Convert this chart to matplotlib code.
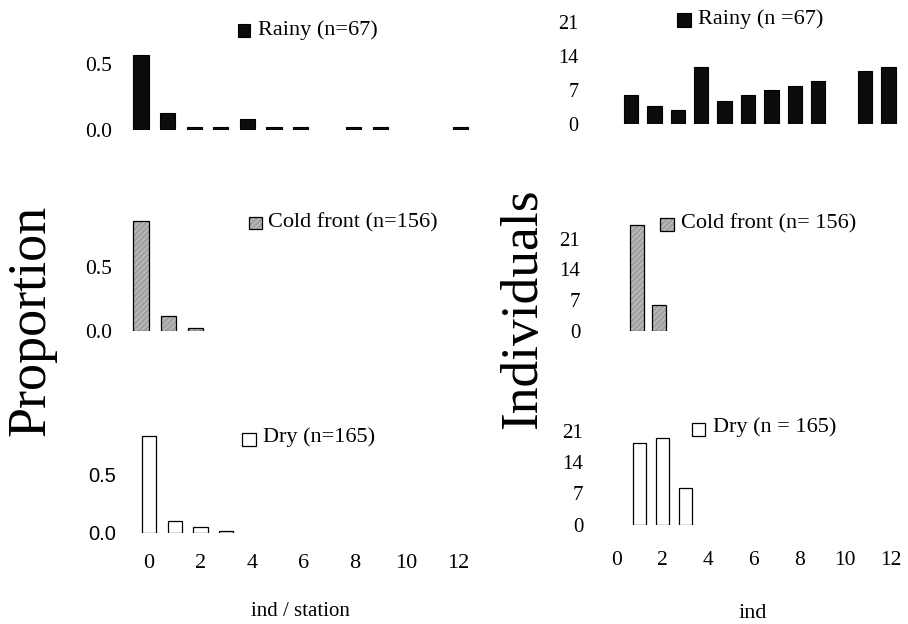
import matplotlib
matplotlib.use("Agg")
import matplotlib.pyplot as plt
from matplotlib.patches import Rectangle

# ---------------- data ----------------
x_prop = list(range(13))
rainy_prop = [0.57, 0.13, 0.02, 0.02, 0.08, 0.02, 0.02, 0.0, 0.02, 0.02, 0.0, 0.0, 0.02]
cold_x = [0, 1, 2]
cold_prop = [0.86, 0.12, 0.02]
dry_x = [0, 1, 2, 3]
dry_prop = [0.84, 0.10, 0.05, 0.015]

rainy_ind_x = [1, 2, 3, 4, 5, 6, 7, 8, 9, 11, 12]
rainy_ind = [6.0, 3.8, 2.8, 11.8, 4.8, 6.0, 7.0, 7.9, 8.8, 10.9, 11.8]
cold_ind_x = [1, 2]
cold_ind = [24.0, 5.8]
dry_ind_x = [1, 2, 3]
dry_ind = [18.3, 19.3, 8.2]

prop_ticks = [0.0, 0.5]
prop_ticklabels = ["0.0", "0.5"]
ind_ticks = [0, 7, 14, 21]
x_ticks = [0, 2, 4, 6, 8, 10, 12]

legend_rainy_l = "Rainy (n=67)"
legend_cold_l = "Cold front (n=156)"
legend_dry_l = "Dry (n=165)"
legend_rainy_r = "Rainy (n =67)"
legend_cold_r = "Cold front (n= 156)"
legend_dry_r = "Dry (n = 165)"

# ---------------- style ----------------
W, H = 908, 624
SERIF = "Liberation Serif"
SANS = "Liberation Sans"
plt.rcParams["font.family"] = [SERIF, "DejaVu Serif"]
plt.rcParams["hatch.linewidth"] = 0.6

COLD_FACE = "#a2a2a2"
COLD_HATCH = "#cdcdcd"

fig = plt.figure(figsize=(W / 100, H / 100), dpi=100)
fig.patch.set_facecolor("white")


def fx(x):
    return x / W


def fy(y):
    return 1 - y / H


def place_axes(x0, xppu, y0, yppu, xlim, ylim):
    left = x0 + xlim[0] * xppu
    right = x0 + xlim[1] * xppu
    bot = y0 - ylim[0] * yppu
    top = y0 - ylim[1] * yppu
    ax = fig.add_axes([fx(left), fy(bot), (right - left) / W, (bot - top) / H])
    ax.set_xlim(*xlim)
    ax.set_ylim(*ylim)
    for s in ax.spines.values():
        s.set_visible(False)
    ax.patch.set_alpha(0)
    return ax


def draw_bars(ax, xs, vals, kind, width):
    pairs = [(x, v) for x, v in zip(xs, vals) if v > 0]
    xs = [p[0] for p in pairs]
    vals = [p[1] for p in pairs]
    if kind == "rainy":
        ax.bar(xs, vals, width=width, color="#0c0c0c", edgecolor="black", linewidth=0.8)
    elif kind == "cold":
        ax.bar(xs, vals, width=width, color=COLD_FACE, edgecolor=COLD_HATCH,
               hatch="//////", linewidth=0)
        ax.bar(xs, vals, width=width, fill=False, edgecolor="black", linewidth=0.9)
    else:
        ax.bar(xs, vals, width=width, color="white", edgecolor="black", linewidth=0.9)


def legend_box(x1, y1, x2, y2, kind, text, tx, ty, size=16):
    if kind == "rainy":
        r = Rectangle((fx(x1), fy(y2)), (x2 - x1) / W, (y2 - y1) / H,
                      transform=fig.transFigure, facecolor="#0c0c0c", edgecolor="black", lw=0.8)
        fig.patches.append(r)
    elif kind == "cold":
        r = Rectangle((fx(x1), fy(y2)), (x2 - x1) / W, (y2 - y1) / H,
                      transform=fig.transFigure, facecolor=COLD_FACE, edgecolor=COLD_HATCH,
                      hatch="//////", lw=0)
        fig.patches.append(r)
        r2 = Rectangle((fx(x1), fy(y2)), (x2 - x1) / W, (y2 - y1) / H,
                       transform=fig.transFigure, fill=False, edgecolor="black", lw=0.9)
        fig.patches.append(r2)
    else:
        r = Rectangle((fx(x1), fy(y2)), (x2 - x1) / W, (y2 - y1) / H,
                      transform=fig.transFigure, facecolor="white", edgecolor="black", lw=0.9)
        fig.patches.append(r)
    fig.text(fx(tx), fy(ty), text, ha="left", va="center", fontsize=size, family=SERIF)


XL = (-0.6, 12.6)

# ---------------- left column: proportions ----------------
ax1 = place_axes(141, 26.6, 130, 132, XL, (0, 0.6))
draw_bars(ax1, x_prop, rainy_prop, "rainy", 0.57)
ax1.set_yticks(prop_ticks)
ax1.set_yticklabels(prop_ticklabels)
ax1.set_xticks([])
ax1.tick_params(axis="y", length=0, pad=9.5, labelsize=15.5)

ax2 = place_axes(141, 27.3, 331, 128, XL, (0, 0.9))
draw_bars(ax2, cold_x, cold_prop, "cold", 0.55)
ax2.set_yticks(prop_ticks)
ax2.set_yticklabels(prop_ticklabels)
ax2.set_xticks([])
ax2.tick_params(axis="y", length=0, pad=9.0, labelsize=15.5)

ax3 = place_axes(149, 25.75, 533, 116, XL, (0, 0.9))
draw_bars(ax3, dry_x, dry_prop, "dry", 0.55)
ax3.set_yticks(prop_ticks)
ax3.set_yticklabels(prop_ticklabels, family=SANS)
ax3.set_xticks(x_ticks)
ax3.set_xticklabels([str(t) for t in x_ticks])
ax3.tick_params(axis="y", length=0, pad=12.5, labelsize=14.5)
ax3.tick_params(axis="x", length=0, pad=15, labelsize=16)

# ---------------- right column: individuals ----------------
ax4 = place_axes(607.6, 23.4, 124, 4.86, XL, (0, 22))
draw_bars(ax4, rainy_ind_x, rainy_ind, "rainy", 0.62)
ax4.set_yticks(ind_ticks)
ax4.set_xticks([])
ax4.tick_params(axis="y", length=0, pad=11, labelsize=14.5)

ax5 = place_axes(615, 22.0, 331, 4.4, XL, (0, 25))
draw_bars(ax5, cold_ind_x, cold_ind, "cold", 0.6)
ax5.set_yticks(ind_ticks)
ax5.set_xticks([])
ax5.tick_params(axis="y", length=0, pad=15.5, labelsize=15)

ax6 = place_axes(617, 22.8, 525, 4.5, XL, (0, 22))
draw_bars(ax6, dry_ind_x, dry_ind, "dry", 0.58)
ax6.set_yticks(ind_ticks)
ax6.set_xticks(x_ticks)
ax6.set_xticklabels([str(t) for t in x_ticks])
ax6.tick_params(axis="y", length=0, pad=14.5, labelsize=15)
ax6.tick_params(axis="x", length=0, pad=19, labelsize=15.5)

# ---------------- legends ----------------
legend_box(238, 24, 250, 37, "rainy", legend_rainy_l, 258, 30)
legend_box(249, 217, 262, 229, "cold", legend_cold_l, 268, 223)
legend_box(242, 433, 256, 446, "dry", legend_dry_l, 263, 437)
legend_box(677, 13, 691, 27, "rainy", legend_rainy_r, 698, 19)
legend_box(660, 218, 674, 231, "cold", legend_cold_r, 681, 224)
legend_box(692, 423, 705, 436, "dry", legend_dry_r, 713, 427)

# ---------------- axis titles ----------------
fig.text(fx(31), fy(320), "Proportion", rotation=90, ha="center", va="center",
         fontsize=39, family=SERIF)
fig.text(fx(523), fy(309), "Individuals", rotation=90, ha="center", va="center",
         fontsize=38.5, family=SERIF)
fig.text(fx(300), fy(612), "ind / station", ha="center", va="center", fontsize=15, family=SERIF)
fig.text(fx(753), fy(613), "ind", ha="center", va="center", fontsize=16, family=SERIF)

fig.savefig("out.png", dpi=100, facecolor="white")
